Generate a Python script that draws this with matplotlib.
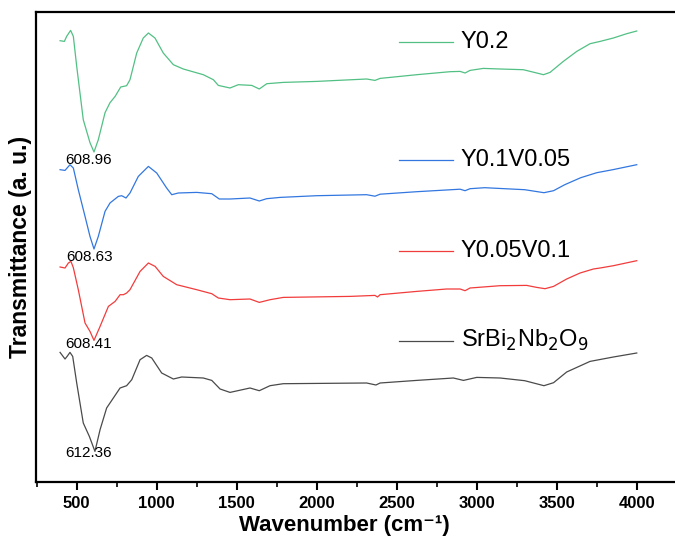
import numpy as np
import matplotlib
matplotlib.use("Agg")
import matplotlib.pyplot as plt

plt.rcParams['font.family'] = ['Liberation Sans', 'DejaVu Sans']

# FTIR spectra, offset for display (arbitrary transmittance units)
wn_y02 = [396, 423, 437, 462, 479, 500, 541, 583, 608, 635, 677, 708, 740, 775, 812, 833, 875, 916,
          948, 989, 1041, 1104, 1166, 1291, 1354, 1385, 1458, 1510, 1594, 1641, 1688, 1791, 2000,
          2312, 2364, 2396, 2625, 2833, 2896, 2927, 2958, 3041, 3146, 3291, 3375, 3417, 3458, 3541,
          3625, 3708, 3771, 3854, 3937, 4000]
t_y02 = [441, 440.3, 445.3, 451.3, 445.3, 415.3, 362, 339, 329.7, 342, 369, 379, 385.3, 394.7, 396,
         402, 428.7, 443.7, 448.7, 443.7, 428.7, 417, 412.7, 407, 402, 396.3, 393.7, 397, 396.3,
         392.7, 398, 399.3, 400.3, 402.7, 401.3, 403.3, 407, 410, 410.3, 408.7, 411.3, 413.3, 412.7,
         412, 408.7, 407, 409.3, 420.3, 430.3, 438, 440.3, 443.7, 448, 450.7]

wn_y01v005 = [396, 427, 440, 458, 479, 510, 552, 583, 608, 635, 677, 708, 760, 781, 808, 833, 885,
              948, 1000, 1062, 1094, 1135, 1250, 1344, 1391, 1458, 1583, 1641, 1687, 1771, 2000,
              2312, 2364, 2396, 2625, 2896, 2927, 2958, 3050, 3300, 3420, 3480, 3550, 3650, 3750,
              3850, 3940, 4000]
t_y01v005 = [312, 311.3, 313.7, 317, 313.7, 292, 265.3, 245.3, 232.7, 245.3, 270.3, 278.7, 285.3,
             286, 283.7, 288.7, 305.3, 315.3, 308.7, 293.7, 287, 288.7, 289.3, 288, 282.7, 282.7,
             283.7, 280.7, 283, 284.3, 286, 287, 285.5, 287.5, 290, 292.5, 291, 293, 294, 292, 289,
             291, 297, 304, 309, 312, 315, 317]

wn_y005v01 = [396, 427, 448, 464, 479, 510, 552, 583, 608, 646, 698, 740, 771, 792, 812, 833, 896,
              948, 990, 1041, 1125, 1250, 1344, 1385, 1458, 1583, 1641, 1708, 1791, 2208, 2364,
              2380, 2396, 2625, 2812, 2896, 2927, 2958, 3146, 3312, 3375, 3427, 3480, 3562, 3646,
              3729, 3771, 3854, 4000]
t_y005v01 = [214.7, 213.7, 218.7, 220.3, 214, 192, 158.7, 150.3, 141.3, 155.3, 175.3, 180.3, 187,
             187, 188.7, 192, 210.3, 218.7, 215.3, 205.3, 197, 192, 188, 183.7, 182, 182.7, 179.3,
             182, 184.3, 185.3, 186.3, 184.7, 187, 190.3, 192.7, 192.7, 191, 193.7, 196, 196.3,
             194.3, 193, 195.3, 202.7, 208.7, 212.7, 213.7, 216, 221]

wn_sbn = [396, 427, 440, 458, 475, 500, 541, 579, 614, 646, 687, 729, 771, 812, 844, 896, 937, 969,
          1031, 1104, 1156, 1291, 1344, 1396, 1458, 1583, 1641, 1708, 1791, 2312, 2370, 2396, 2625,
          2854, 2917, 3000, 3146, 3300, 3420, 3480, 3562, 3708, 3854, 4000]
t_sbn = [129.3, 122.7, 125.3, 129.3, 125.3, 98.7, 58.7, 45.3, 30.3, 52, 73.7, 83.7, 93.7, 96, 102,
         122, 126.3, 123.7, 108.7, 102.7, 104.7, 103.7, 101.3, 92.7, 89.3, 93.7, 91, 96, 98, 98.7,
         96.7, 98.7, 101.3, 103.7, 101.3, 104.3, 103.7, 101, 96, 99, 109.7, 120.3, 124.7, 128.7]

labels = ['Y0.2', 'Y0.1V0.05', 'Y0.05V0.1', r'SrBi$_2$Nb$_2$O$_9$']
peaks = ['608.96', '608.63', '608.41', '612.36']
colors = ['#52c084', '#3277e0', '#f23c3c', '#4a4a4a']
series = [(wn_y02, t_y02), (wn_y01v005, t_y01v005), (wn_y005v01, t_y005v01), (wn_sbn, t_sbn)]

fig = plt.figure(figsize=(6.75, 5.37), dpi=100)
ax = fig.add_axes([36 / 675, 55.3 / 537, 1 - 36 / 675, 469.7 / 537])

key_y = [0.9355, 0.685, 0.4905, 0.300]
peak_off = [(-5, -8), (-4, -8), (-5, -3.5), (-6, -2)]

for (wn, t), lab, pk, c, ky, off in zip(series, labels, peaks, colors, key_y, peak_off):
    wn = np.array(wn)
    t = np.array(t)
    ax.plot(wn, t, color=c, lw=0.9)
    i = np.argmin(t)
    ax.annotate(pk, xy=(wn[i], t[i]), xytext=off, textcoords='offset pixels',
                ha='center', va='center', fontsize=11)
    ax.plot([0.568, 0.6526], [ky, ky], color=c, lw=0.9, transform=ax.transAxes)
    ax.text(0.665, ky, lab, transform=ax.transAxes, fontsize=17, va='center', ha='left')

ax.set_xlim(245.6, 4239)
ax.set_ylim(0, 469.7)
ax.set_xticks(np.arange(500, 4001, 500))
ax.set_xticks(np.arange(250, 4240, 250), minor=True)
ax.set_yticks([])
for lbl in ax.get_xticklabels():
    lbl.set_fontweight('bold')
ax.tick_params(axis='x', which='major', direction='out', length=6, width=1.5,
               labelsize=12, pad=4)
ax.tick_params(axis='x', which='minor', direction='out', length=3.5, width=1.2)
for s in ['left', 'bottom', 'top']:
    ax.spines[s].set_linewidth(1.6)
ax.spines['right'].set_visible(False)

ax.set_xlabel('Wavenumber (cm\u207b\u00b9)', fontsize=16, fontweight='bold', va='baseline')
ax.xaxis.set_label_coords(0.482, -0.104)
ax.set_ylabel('Transmittance (a. u.)', fontsize=16.5, fontweight='bold', va='center')
ax.yaxis.set_label_coords(-0.025, 0.5)

fig.savefig('out.png', dpi=100)
